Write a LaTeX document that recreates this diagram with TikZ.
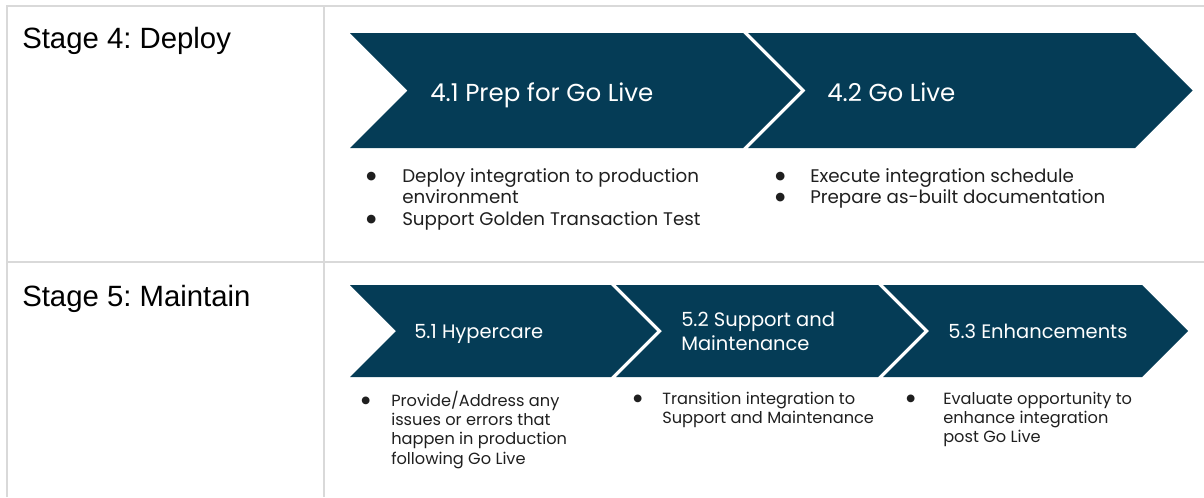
\documentclass[tikz,border=0pt]{standalone}
\usepackage{fontspec}
\setmainfont{Liberation Sans}
\newfontfamily\popfont{Poppins}
\newfontfamily\dotfont{DejaVu Sans}
\definecolor{navy}{HTML}{053C56}
\definecolor{gridgray}{HTML}{D9D9D9}
\definecolor{bodytext}{HTML}{1F1F1F}
\newcommand\bigdot{\raisebox{2.1pt}{\dotfont\fontsize{8.5}{8.5}\selectfont ●}}
\newcommand\smalldot{\raisebox{1.9pt}{\dotfont\fontsize{7.6}{7.6}\selectfont ●}}
\frenchspacing
\tikzset{
  grid line/.style={draw=gridgray,line width=1.5pt},
  chevron/.style={fill=navy},
  stage/.style={anchor=base west,inner sep=0pt,font=\fontsize{22}{26}\selectfont},
  big title/.style={anchor=base west,inner sep=0pt,text=white,font=\popfont\fontsize{18.4}{22}\selectfont},
  small title/.style={anchor=base west,inner sep=0pt,text=white,font=\popfont\fontsize{14.6}{17.6}\selectfont},
  big list/.style={anchor=north west,inner sep=0pt,text=bodytext,font=\popfont\fontsize{13.7}{16.1}\selectfont},
  small list/.style={anchor=north west,inner sep=0pt,text=bodytext,font=\popfont\fontsize{12.15}{14.5}\selectfont}
}
\begin{document}
\begin{tikzpicture}[x=0.75pt,y=-0.75pt]
  \useasboundingbox (0,0) rectangle (1204,497);
  % table
  \draw[grid line] (7,497) -- (7,6) -- (1204,6);
  \draw[grid line] (324,6) -- (324,497);
  \draw[grid line] (7,262) -- (1204,262);
  \node[stage] (s4) at (22,48) {Stage 4: Deploy};
  \node[stage] (s5) at (22,306) {Stage 5: Maintain};
  % stage 4 chevrons
  \fill[chevron] (350,33) -- (743,33) -- (800.5,90.5) -- (743,148) -- (350,148) -- (407.5,90.5) -- cycle;
  \fill[chevron] (748,33) -- (1135,33) -- (1192.5,90.5) -- (1135,148) -- (748,148) -- (805.5,90.5) -- cycle;
  \node[big title] (t41) at (430,101) {4.1 Prep for Go Live};
  \node[big title] (t42) at (827,101) {4.2 Go Live};
  \node[big list] (l41) at (366,167) {\begin{tabular}{@{}p{27pt}@{}l@{}}
    \bigdot & Deploy integration to production\\
    & environment\\
    \bigdot & Support Golden Transaction Test
  \end{tabular}};
  \node[big list] (l42) at (775,167) {\begin{tabular}{@{}p{26.25pt}@{}l@{}}
    \bigdot & Execute integration schedule\\
    \bigdot & Prepare as-built documentation
  \end{tabular}};
  % stage 5 chevrons
  \fill[chevron] (350,285) -- (611,285) -- (657,331) -- (611,377) -- (350,377) -- (396,331) -- cycle;
  \fill[chevron] (616,285) -- (878,285) -- (924,331) -- (878,377) -- (616,377) -- (662,331) -- cycle;
  \fill[chevron] (883,285) -- (1142,285) -- (1188,331) -- (1142,377) -- (883,377) -- (929,331) -- cycle;
  \node[small title] (t51) at (414,338) {5.1 Hypercare};
  \node[small title,anchor=west,align=left] (t52) at (681,331.5) {5.2 Support and\\Maintenance};
  \node[small title] (t53) at (948,338) {5.3 Enhancements};
  \node[small list] (l51) at (361,390.5) {\begin{tabular}{@{}p{22.5pt}@{}l@{}}
    \smalldot & Provide/Address any\\
    & issues or errors that\\
    & happen in production\\
    & following Go Live
  \end{tabular}};
  \node[small list] (l52) at (633,390.5) {\begin{tabular}{@{}p{21.75pt}@{}l@{}}
    \smalldot & Transition integration to\\
    & Support and Maintenance
  \end{tabular}};
  \node[small list] (l53) at (906,390.5) {\begin{tabular}{@{}p{27.75pt}@{}l@{}}
    \smalldot & Evaluate opportunity to\\
    & enhance integration\\
    & post Go Live
  \end{tabular}};
\end{tikzpicture}
\end{document}
